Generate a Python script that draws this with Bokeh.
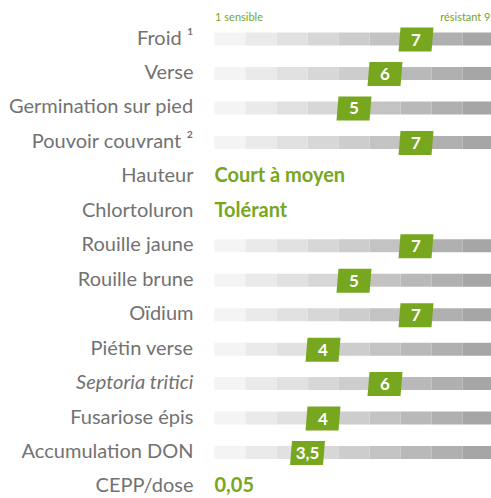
from bokeh.plotting import figure
from bokeh.models import Range1d, ColumnDataSource
from bokeh.core.properties import value
from bokeh.embed import file_html
from bokeh.resources import INLINE

# ---- data ----
labels = ["Froid ¹", "Verse", "Germination sur pied", "Pouvoir couvrant ²", "Hauteur",
          "Chlortoluron", "Rouille jaune", "Rouille brune", "Oïdium", "Piétin verse",
          "Septoria tritici", "Fusariose épis", "Accumulation DON", "CEPP/dose"]
scores = [7, 6, 5, 7, None, None, 7, 5, 7, 4, 6, 4, 3.5, None]
score_labels = ["7", "6", "5", "7", None, None, "7", "5", "7", "4", "6", "4", "3,5", None]
text_values = [None, None, None, None, "Court à moyen", "Tolérant",
               None, None, None, None, None, None, None, "0,05"]
scale_min_label = "1 sensible"
scale_max_label = "résistant 9"
n_levels = 9

GREEN = "#77a61f"
GREY_TXT = "#727272"
FONT = "Lato"
seg_colors = ["#f4f4f4", "#eaeaea", "#e1e1e1", "#d7d7d7", "#cdcdcd",
              "#c3c3c3", "#b9b9b9", "#b0b0b0", "#a6a6a6"]

W, H = 491, 498
px_left = 214.0   # pixel where level 1 starts
seg_px = 31.0     # pixels per level
row0_px = 38.5
row_px = 34.46

x0 = -px_left / seg_px
x1 = (W - px_left) / seg_px
y_top = -row0_px / row_px
y_bot = (H - row0_px) / row_px
txt_dy = -2.5 / row_px

p = figure(width=W, height=H, x_range=Range1d(x0, x1), y_range=Range1d(y_bot, y_top),
           output_backend="svg", toolbar_location=None, min_border=0,
           outline_line_color=None, background_fill_color="white",
           border_fill_color="white")
p.axis.visible = False
p.grid.visible = False

# gradient bars
bx, by, bc = [], [], []
for r, s in enumerate(scores):
    if s is None:
        continue
    for i in range(n_levels):
        bx.append(i + 0.5)
        by.append(r)
        bc.append(seg_colors[i])
p.rect(x="x", y="y", width=1.0, height=13 / row_px, fill_color="c", line_color=None,
       source=ColumnDataSource(dict(x=bx, y=by, c=bc)))

# badges (parallelograms)
hw = 16.5 / seg_px
sk = 1.0 / seg_px
hh = 12.0 / row_px
xs, ys, tx, ty, tt = [], [], [], [], []
for r, (s, lab) in enumerate(zip(scores, score_labels)):
    if s is None:
        continue
    cx = s - 0.5
    cy = r + 0.015
    xs.append([cx - hw - sk, cx + hw - sk, cx + hw + sk, cx - hw + sk])
    ys.append([cy + hh, cy + hh, cy - hh, cy - hh])
    tx.append(cx)
    ty.append(cy)
    tt.append(lab)
p.patches(xs=xs, ys=ys, fill_color=GREEN, line_color=None)
p.text(x=tx, y=ty, text=tt, text_color="white", text_font=value(FONT),
       text_font_style="bold", text_font_size="17px", text_align="center",
       text_baseline="middle")

# row labels
lx = (193 - px_left) / seg_px
normal = [(r, l) for r, l in enumerate(labels) if l != "Septoria tritici"]
italic = [(r, l) for r, l in enumerate(labels) if l == "Septoria tritici"]
p.text(x=[lx] * len(normal), y=[r + txt_dy for r, _ in normal], text=[l for _, l in normal],
       text_color=GREY_TXT, text_font=value(FONT), text_font_size="20px",
       text_align="right", text_baseline="middle")
p.text(x=[lx] * len(italic), y=[r + txt_dy for r, _ in italic], text=[l for _, l in italic],
       text_color=GREY_TXT, text_font=value(FONT), text_font_size="20px",
       text_font_style="italic", text_align="right", text_baseline="middle")

# text values
tv = [(r, t) for r, t in enumerate(text_values) if t is not None]
p.text(x=[0.0] * len(tv), y=[r + txt_dy for r, _ in tv], text=[t for _, t in tv],
       text_color=GREEN, text_font=value(FONT), text_font_style="bold",
       text_font_size="20px", text_align="left", text_baseline="middle")

# scale header
hy = (16 - row0_px) / row_px
p.text(x=[0.02], y=[hy], text=[scale_min_label], text_color=GREEN,
       text_font=value(FONT), text_font_size="11px", text_align="left",
       text_baseline="middle")
p.text(x=[(490 - px_left) / seg_px], y=[hy], text=[scale_max_label], text_color=GREEN,
       text_font=value(FONT), text_font_size="11px", text_align="right",
       text_baseline="middle")

open("out.html", "w").write(file_html(p, INLINE))
